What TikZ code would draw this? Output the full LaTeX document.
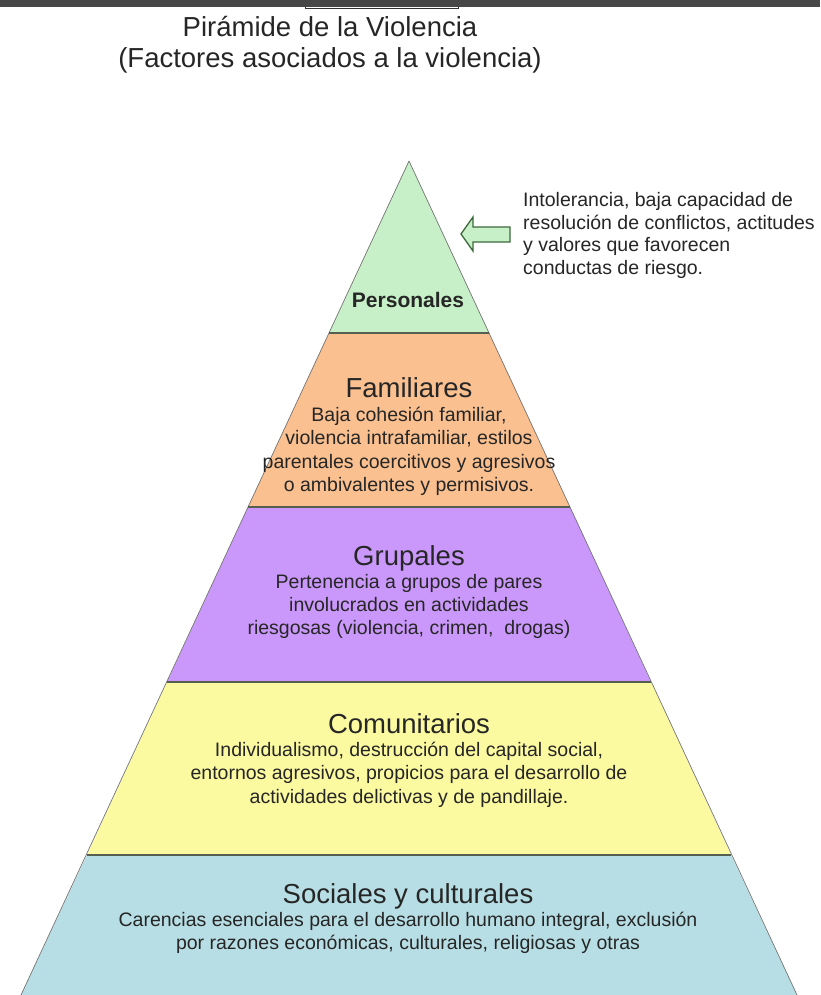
\documentclass[tikz,border=0pt]{standalone}
\usepackage{fontspec}
\setmainfont{Liberation Sans}
\usetikzlibrary{positioning}

\definecolor{persgreen}{RGB}{200,240,200}
\definecolor{famorange}{RGB}{250,192,144}
\definecolor{grppurple}{RGB}{202,152,250}
\definecolor{comyellow}{RGB}{252,250,160}
\definecolor{socblue}{RGB}{183,222,228}
\definecolor{rulegray}{RGB}{85,95,80}
\definecolor{arrowgreen}{RGB}{60,105,60}

\begin{document}
\begin{tikzpicture}[x=1pt, y=-1pt,
	head/.style={font=\fontsize{27.5}{31}\selectfont, text=black!85, inner sep=0pt, anchor=base},
	body/.style={font=\fontsize{19.5}{23.3}\selectfont, text=black!85, align=center, inner sep=0pt, anchor=north},
	rule/.style={draw=rulegray, line width=1.8pt},
	edge/.style={draw=black!55, line width=0.7pt}]
	\useasboundingbox (0,0) rectangle (820,995);
	\fill[white] (0,0) rectangle (820,995);

	% screen bar
	\fill[black!72] (0,0) rectangle (820,7);
	\draw[black!80, line width=1pt] (305,7) -- (305,8.5) -- (458,8.5) -- (458,7);

	\node[head, align=center, anchor=north] (title) at (330,16)
		{Pirámide de la Violencia\\(Factores asociados a la violencia)};

	\coordinate (apex) at (409,161);
	\fill[persgreen] (apex) -- (489,333) -- (329,333) -- cycle;
	\fill[famorange] (329,333) -- (489,333) -- (570,507) -- (248,507) -- cycle;
	\fill[grppurple] (248,507) -- (570,507) -- (651,682) -- (167,682) -- cycle;
	\fill[comyellow] (167,682) -- (651,682) -- (731,855) -- (87,855) -- cycle;
	\fill[socblue] (87,855) -- (731,855) -- (797,995) -- (21,995) -- cycle;
	\draw[edge] (apex) -- (21,995);
	\draw[edge] (apex) -- (797,995);
	\draw[rule] (329,333) -- (489,333);
	\draw[rule] (248,507) -- (570,507);
	\draw[rule] (167,682) -- (651,682);
	\draw[rule] (87,855) -- (731,855);

	\node[font=\fontsize{21}{24}\selectfont\bfseries, text=black!85, inner sep=0pt, anchor=base] (personales) at (408,307) {Personales};

	\node[head] (familiares) at (409,397) {Familiares};
	\node[body] (famtext) at (409,407) {Baja cohesión familiar,\\violencia intrafamiliar, estilos\\parentales coercitivos y agresivos\\o ambivalentes y permisivos.};

	\node[head] (grupales) at (409,565) {Grupales};
	\node[body] (grptext) at (409,574) {Pertenencia a grupos de pares\\involucrados en actividades\\riesgosas (violencia, crimen,\ \ drogas)};

	\node[head] (comunitarios) at (409,733) {Comunitarios};
	\node[body] (comtext) at (409,742) {Individualismo, destrucción del capital social,\\entornos agresivos, propicios para el desarrollo de\\actividades delictivas y de pandillaje.};

	\node[head] (sociales) at (408,903) {Sociales y culturales};
	\node[body] (soctext) at (408,912) {Carencias esenciales para el desarrollo humano integral, exclusión\\por razones económicas, culturales, religiosas y otras};

	% block arrow towards the top
	\draw[fill=persgreen, draw=arrowgreen, line width=1.3pt, line join=miter]
		(461,234) -- (473,217) -- (473,227) -- (510,227) -- (510,242) -- (473,242) -- (473,251) -- cycle;
	\node[body, align=left, anchor=north west, font=\fontsize{19.5}{22.7}\selectfont] (persnote) at (523,192)
		{Intolerancia, baja capacidad de\\resolución de conflictos, actitudes\\y valores que favorecen\\conductas de riesgo.};
\end{tikzpicture}
\end{document}
